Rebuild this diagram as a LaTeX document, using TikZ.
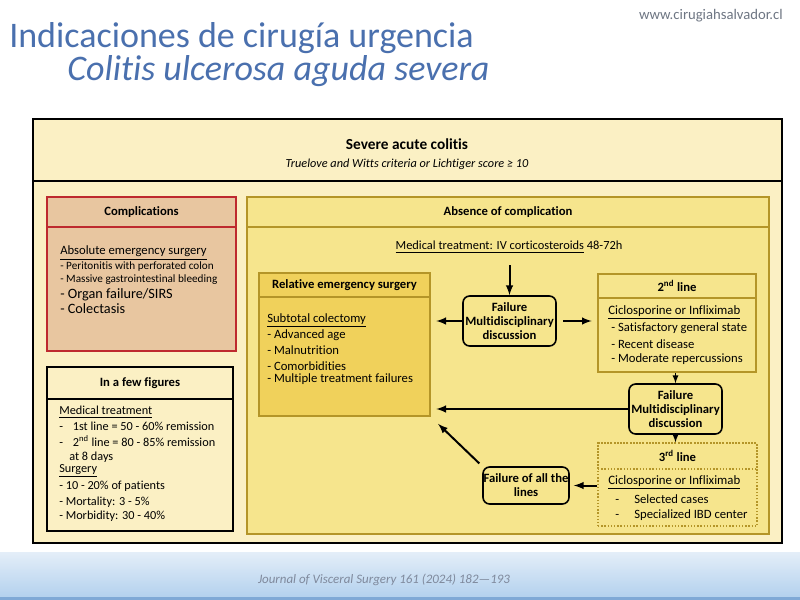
\documentclass[tikz,border=0pt]{standalone}
\usepackage{fontspec}
\setmainfont{Carlito}[Ligatures={NoCommon,NoRare,NoContextual}, RawFeature={-liga;-dlig;-clig;-calt}]
\usepackage{tikz}
\usetikzlibrary{arrows.meta,arrows,positioning,fit,calc}
\tikzset{>=latex}
\usepackage{xcolor}
\definecolor{titleblue}{HTML}{4A70AE}
\definecolor{urlgray}{HTML}{6E7683}
\definecolor{paleyel}{HTML}{FBF0C4}
\definecolor{tan}{HTML}{E8C6A0}
\definecolor{compred}{HTML}{BE2A2E}
\definecolor{absyel}{HTML}{F6E58D}
\definecolor{relyel}{HTML}{F0D15B}
\definecolor{boxgold}{HTML}{B49528}
\definecolor{bandtop}{HTML}{E4EEF8}
\definecolor{bandbot}{HTML}{B3D1EE}
\definecolor{bandline}{HTML}{7FA9D6}
\definecolor{citegray}{HTML}{7F899C}

\newcommand{\fsz}[2]{\fontsize{#1}{#2}\selectfont}
\tikzset{
  panel/.style={draw=#1, line width=1.4pt, inner sep=0pt},
  head/.style={font=\fsz{9.5}{11}\bfseries, inner sep=0pt},
  txt/.style={anchor=west, inner sep=0pt, font=\fsz{9.5}{11}},
  fail/.style={draw=black, line width=1.2pt, rounded corners=5pt, inner sep=0pt,
    align=center, font=\fsz{9.5}{10.5}\bfseries},
  flow/.style={->, line width=1.5pt},
}

\begin{document}
\begin{tikzpicture}[x=0.75pt, y=-0.75pt]
  \useasboundingbox (0,0) rectangle (800,600);
  \fill[white] (0,0) rectangle (800,600);
  \shade[top color=bandtop, bottom color=bandbot] (0,552) rectangle (800,597);
  \fill[bandline] (0,597) rectangle (800,600);

  % slide titles
  \node[anchor=base west, inner sep=0pt, text=titleblue, font=\fsz{27}{30}] (title) at (9,47) {Indicaciones de cirugía urgencia};
  \node[anchor=base west, inner sep=0pt, text=titleblue, font=\fsz{27}{30}\itshape] (subtitle) at (67,80) {Colitis ulcerosa aguda severa};
  \node[anchor=base east, inner sep=0pt, text=urlgray, font=\fsz{11}{13}] (url) at (783,19) {www.cirugiahsalvador.cl};

  % outer frame
  \node[panel=black, fill=paleyel, fit={(33,119)(782,543)}] (frame) {};
  \node[panel=black, fit={(33,119)(782,181)}] (framehd) {};
  \node[font=\fsz{11.5}{13}\bfseries] (sac) at (407,144) {Severe acute colitis};
  \node[font=\fsz{9.2}{11}\itshape] (crit) at (407,164) {Truelove and Witts criteria or Lichtiger score ≥ 10};

  % complications
  \node[panel=compred, fill=tan, fit={(47,197)(236,351)}] (comp) {};
  \node[panel=compred, fit={(47,197)(236,227)}, label={[head, name=comptitle]center:Complications}] (comphd) {};
  \foreach \y/\t [count=\k] in {253/{\fsz{9.5}{11}\underline{Absolute emergency surgery}},
      267/{- Peritonitis with perforated colon}, 280/{- Massive gastrointestinal bleeding},
      295/{\fsz{10.7}{12}- Organ failure/SIRS}, 309/{\fsz{10.7}{12}- Colectasis}}
    \node[txt, font=\fsz{8.4}{10}] (comp\k) at (60,\y) {\t};

  % in a few figures
  \node[panel=black, fill=paleyel, fit={(47,367)(233,531)}] (fig) {};
  \node[panel=black, fit={(47,367)(233,399)}, label={[head, name=figtitle]center:In a few figures}] (fighd) {};
  \foreach \x/\y/\t [count=\k] in {59/412/{\underline{Medical treatment}},
      59/426/{-\hspace{0.8em}1st line = 50 - 60\% remission},
      59/441/{-\hspace{0.8em}2\textsuperscript{nd} line = 80 - 85\% remission},
      69/457/{at 8 days}, 59/471/{\underline{Surgery}}, 59/486/{- 10 - 20\% of patients},
      59/502/{- Mortality: 3 - 5\%}, 59/516/{- Morbidity: 30 - 40\%}}
    \node[txt, font=\fsz{9.2}{11}] (fig\k) at (\x,\y) {\t};

  % absence of complication
  \node[panel=boxgold, fill=absyel, fit={(247,197)(769,534)}] (abs) {};
  \node[panel=boxgold, fit={(247,197)(769,227)}, label={[head, name=abstitle]center:Absence of complication}] (abshd) {};
  \node[font=\fsz{9.3}{11}] (med) at (509,247) {\underline{Medical treatment: IV corticosteroids} 48-72h};

  \node[panel=boxgold, fill=relyel, fit={(259,273)(430,416)}] (rel) {};
  \node[panel=boxgold, fit={(259,273)(430,297)}, label={[head, name=reltitle]center:Relative emergency surgery}] (relhd) {};
  \foreach \y/\t [count=\k] in {320/{\underline{Subtotal colectomy}}, 335/{- Advanced age},
      350/{- Malnutrition}, 366/{- Comorbidities}, 379/{- Multiple treatment failures}}
    \node[txt] (rel\k) at (267,\y) {\t};

  \node[panel=boxgold, fit={(598,274)(756,372)}] (sec) {};
  \node[panel=boxgold, fit={(598,274)(756,298)}, label={[head, name=sectitle]center:2\textsuperscript{nd} line}] (sechd) {};
  \node[txt, font=\fsz{9.6}{11}] (sec1) at (608,312) {\underline{Ciclosporine or Infliximab}};
  \foreach \y/\t [count=\k from 2] in {328/{- Satisfactory general state},
      344/{- Recent disease}, 359/{- Moderate repercussions}}
    \node[txt] (sec\k) at (611,\y) {\t};

  \node[panel=boxgold, line width=1.1pt, dash pattern=on 1.1pt off 1.3pt, fit={(598,443)(757,526)}] (thr) {};
  \node[panel=boxgold, line width=1.1pt, dash pattern=on 1.1pt off 1.3pt, fit={(598,443)(757,469)}, label={[head, name=thrtitle]center:3\textsuperscript{rd} line}] (thrhd) {};
  \node[txt, font=\fsz{9.6}{11}] (thr1) at (608,482) {\underline{Ciclosporine or Infliximab}};
  \foreach \y/\t [count=\k from 2] in {499/{Selected cases}, 515/{Specialized IBD center}}
    \node[txt] (thr\k) at (615,\y) {-\hspace{1.2em}\t};

  \node[fail, minimum width=69.75pt, minimum height=37.5pt] (fail1) at (509.5,321) {Failure\\Multidisciplinary\\discussion};
  \node[fail, minimum width=69.75pt, minimum height=37.5pt] (fail2) at (675.5,409) {Failure\\Multidisciplinary\\discussion};
  \node[fail, minimum width=64.5pt, minimum height=27.75pt] (allfail) at (526,485.5) {Failure of all the\\lines};

  % connectors
  \draw[flow, shorten <=6pt] (fail1.north |- med.south) -- (fail1.north);
  \draw[flow, shorten >=4pt] (fail1.west) -- (fail1.west -| rel.east);
  \draw[flow, shorten <=5pt, shorten >=4pt] (fail1.east) -- (fail1.east -| sec.west);
  \draw[flow, line width=1pt] (fail2.north |- sec.south) -- (fail2.north);
  \draw[flow, shorten >=4pt] (fail2.west) -- (fail2.west -| rel.east);
  \draw[flow, line width=1pt] (fail2.south) -- (fail2.south |- thr.north);
  \draw[flow, shorten >=3pt] (thr.west |- allfail.east) -- (allfail.east);
  \draw[flow, shorten <=3pt, shorten >=7.5pt] (allfail.north west) -- (rel.south east);

  \node[text=citegray, font=\fsz{9.7}{11}\itshape] (cite) at (384,580) {Journal of Visceral Surgery 161 (2024) 182—193};
\end{tikzpicture}
\end{document}
